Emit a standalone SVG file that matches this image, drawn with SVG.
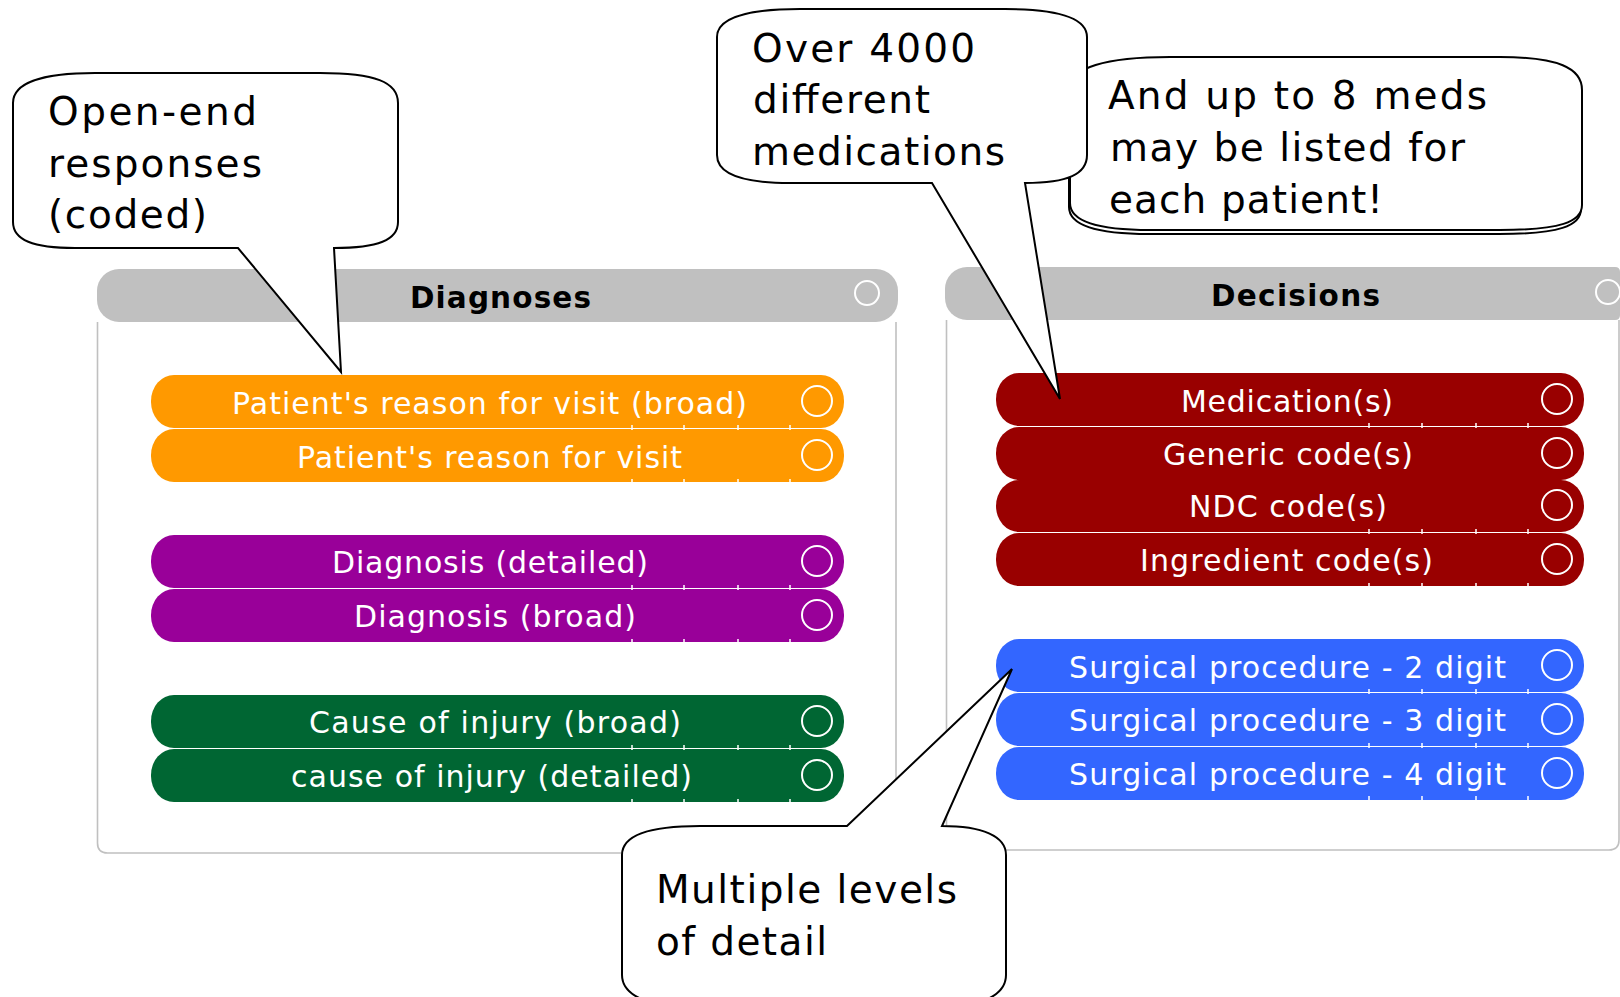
<svg xmlns="http://www.w3.org/2000/svg" width="1620" height="997" viewBox="0 0 1620 997">
<style>
.hdr{fill:#c0c0c0}
.body{fill:none;stroke:#c0c0c0;stroke-width:1.6}
.htxt{font-family:"DejaVu Sans","Liberation Sans",sans-serif;font-weight:bold;font-size:29.5px;fill:#000}
.ptxt{font-family:"DejaVu Sans","Liberation Sans",sans-serif;font-size:30px;fill:#fff}
.ctxt{font-family:"DejaVu Sans","Liberation Sans",sans-serif;font-size:39px;fill:#000}
.ring{fill:none;stroke:#fff;stroke-width:2}
.tick{stroke:#fff;stroke-width:1.5}
.bub{fill:#fff;stroke:#000;stroke-width:2;stroke-linejoin:miter}
.orange{fill:#ff9900}.purple{fill:#990099}.green{fill:#006633}.red{fill:#990000}.blue{fill:#3366ff}
</style>

<g id="diagnoses">
  <path class="body" d="M97.5,322 L97.5,843 Q97.5,853 107.5,853 L886,853 Q896,853 896,843 L896,322"/>
  <rect class="hdr" x="97" y="269" width="801" height="53" rx="22" ry="22"/>
  <text class="htxt" x="410" y="308" textLength="181" lengthAdjust="spacing">Diagnoses</text>
  <circle class="ring" cx="867" cy="293" r="12"/>
</g>

<g id="decisions">
  <path class="body" d="M946.5,320 L946.5,840 Q946.5,850 956.5,850 L1609,850 Q1619,850 1619,840 L1619,320"/>
  <path class="hdr" d="M967,267 L1615,267 Q1620,267 1620,272 L1620,315 Q1620,320 1615,320 L967,320 A22,22 0 0 1 945,298 L945,289 A22,22 0 0 1 967,267 Z"/>
  <text class="htxt" x="1211" y="306" textLength="169" lengthAdjust="spacing">Decisions</text>
  <circle class="ring" cx="1608" cy="292" r="12"/>
</g>

<g id="pill-reason-broad">
  <rect class="orange" x="151" y="375" width="693" height="53" rx="23" ry="26"/>
  <text class="ptxt" x="232" y="414" textLength="515" lengthAdjust="spacing">Patient's reason for visit (broad)</text>
  <circle class="ring" cx="817" cy="401" r="15"/>
</g>
<g id="pill-reason">
  <rect class="orange" x="151" y="429" width="693" height="53" rx="23" ry="26"/>
  <text class="ptxt" x="297" y="468" textLength="385" lengthAdjust="spacing">Patient's reason for visit</text>
  <circle class="ring" cx="817" cy="455" r="15"/>
</g>
<g id="pill-diag-detailed">
  <rect class="purple" x="151" y="535" width="693" height="53" rx="23" ry="26"/>
  <text class="ptxt" x="332" y="573" textLength="316" lengthAdjust="spacing">Diagnosis (detailed)</text>
  <circle class="ring" cx="817" cy="561" r="15"/>
</g>
<g id="pill-diag-broad">
  <rect class="purple" x="151" y="589" width="693" height="53" rx="23" ry="26"/>
  <text class="ptxt" x="354" y="627" textLength="282" lengthAdjust="spacing">Diagnosis (broad)</text>
  <circle class="ring" cx="817" cy="615" r="15"/>
</g>
<g id="pill-cause-broad">
  <rect class="green" x="151" y="695" width="693" height="53" rx="23" ry="26"/>
  <text class="ptxt" x="309" y="733" textLength="372" lengthAdjust="spacing">Cause of injury (broad)</text>
  <circle class="ring" cx="817" cy="721" r="15"/>
</g>
<g id="pill-cause-detailed">
  <rect class="green" x="151" y="749" width="693" height="53" rx="23" ry="26"/>
  <text class="ptxt" x="291" y="787" textLength="401" lengthAdjust="spacing">cause of injury (detailed)</text>
  <circle class="ring" cx="817" cy="775" r="15"/>
</g>

<g id="pill-medication">
  <rect class="red" x="996" y="373" width="588" height="53" rx="23" ry="26"/>
  <text class="ptxt" x="1181" y="412" textLength="212" lengthAdjust="spacing">Medication(s)</text>
  <circle class="ring" cx="1557" cy="399" r="15"/>
</g>
<g id="pill-generic">
  <rect class="red" x="996" y="427" width="588" height="53" rx="23" ry="26"/>
  <text class="ptxt" x="1163" y="465" textLength="250" lengthAdjust="spacing">Generic code(s)</text>
  <circle class="ring" cx="1557" cy="453" r="15"/>
</g>
<g id="pill-ndc">
  <rect class="red" x="996" y="480" width="588" height="52" rx="23" ry="26"/>
  <text class="ptxt" x="1189" y="517" textLength="198" lengthAdjust="spacing">NDC code(s)</text>
  <circle class="ring" cx="1557" cy="505" r="15"/>
</g>
<g id="pill-ingredient">
  <rect class="red" x="996" y="533" width="588" height="53" rx="23" ry="26"/>
  <text class="ptxt" x="1140" y="571" textLength="293" lengthAdjust="spacing">Ingredient code(s)</text>
  <circle class="ring" cx="1557" cy="559" r="15"/>
</g>
<g id="pill-surg-2">
  <rect class="blue" x="996" y="639" width="588" height="53" rx="23" ry="26"/>
  <text class="ptxt" x="1069" y="678" textLength="437" lengthAdjust="spacing">Surgical procedure - 2 digit</text>
  <circle class="ring" cx="1557" cy="665" r="15"/>
</g>
<g id="pill-surg-3">
  <rect class="blue" x="996" y="693" width="588" height="53" rx="23" ry="26"/>
  <text class="ptxt" x="1069" y="731" textLength="437" lengthAdjust="spacing">Surgical procedure - 3 digit</text>
  <circle class="ring" cx="1557" cy="719" r="15"/>
</g>
<g id="pill-surg-4">
  <rect class="blue" x="996" y="747" width="588" height="53" rx="23" ry="26"/>
  <text class="ptxt" x="1069" y="785" textLength="437" lengthAdjust="spacing">Surgical procedure - 4 digit</text>
  <circle class="ring" cx="1557" cy="773" r="15"/>
</g>

<g id="ticks">
  <path class="tick" d="M632,425V430M684,425V430M738,425V430M790,425V430M632,479V483M684,479V483M738,479V483M790,479V483M632,585V590M684,585V590M738,585V590M790,585V590M632,639V643M684,639V643M738,639V643M790,639V643M632,745V750M684,745V750M738,745V750M790,745V750M632,799V803M684,799V803M738,799V803M790,799V803"/>
  <path class="tick" d="M1369,423V428M1422,423V428M1476,423V428M1528,423V428M1369,529V534M1422,529V534M1476,529V534M1528,529V534M1369,583V587M1422,583V587M1476,583V587M1528,583V587M1369,689V694M1422,689V694M1476,689V694M1528,689V694M1369,743V748M1422,743V748M1476,743V748M1528,743V748M1369,796V800M1422,796V800M1476,796V800M1528,796V800"/>
</g>

<g id="connectors"></g>

<g id="callout-meds">
  <path class="bub" transform="translate(-1,4)" d="M1070,88 C1070,68 1105,57 1170,57 L1500,57 C1558,57 1582,68 1582,90 L1582,205 C1582,222 1560,230 1500,230 L1150,230 C1095,230 1070,220 1070,203 Z"/>
  <path class="bub" d="M1070,88 C1070,68 1105,57 1170,57 L1500,57 C1558,57 1582,68 1582,90 L1582,205 C1582,222 1560,230 1500,230 L1150,230 C1095,230 1070,220 1070,203 Z"/>
  <text class="ctxt" x="1108" y="109" textLength="379" lengthAdjust="spacing">And up to 8 meds</text>
  <text class="ctxt" x="1110" y="161" textLength="355" lengthAdjust="spacing">may be listed for</text>
  <text class="ctxt" x="1109" y="213" textLength="274" lengthAdjust="spacing">each patient!</text>
</g>

<g id="callout-4000">
  <path class="bub" d="M717,37 C717,18 748,9 800,9 L1005,9 C1058,9 1087,18 1087,37 L1087,155 C1087,174 1068,183 1025,183 L1060,399 L932,183 L790,183 C742,183 717,174 717,155 Z"/>
  <text class="ctxt" x="752" y="62" textLength="223" lengthAdjust="spacing">Over 4000</text>
  <text class="ctxt" x="753" y="113" textLength="177" lengthAdjust="spacing">different</text>
  <text class="ctxt" x="752" y="165" textLength="253" lengthAdjust="spacing">medications</text>
</g>

<g id="callout-levels">
  <path class="bub" d="M622,855 C622,836 648,826 700,826 L847,826 L1012,669 L942,826 C982,826 1006,836 1006,855 L1006,975 C1006,996 980,1008 930,1008 L700,1008 C650,1008 622,996 622,975 Z"/>
  <text class="ctxt" x="656" y="903" textLength="301" lengthAdjust="spacing">Multiple levels</text>
  <text class="ctxt" x="656" y="955" textLength="171" lengthAdjust="spacing">of detail</text>
</g>

<g id="callout-openend">
  <path class="bub" d="M13,103 C13,82 45,73 95,73 L320,73 C375,73 398,82 398,103 L398,222 C398,240 378,248 334,248 L341,372 L238,248 L75,248 C33,248 13,240 13,222 Z"/>
  <text class="ctxt" x="48" y="125" textLength="209" lengthAdjust="spacing">Open-end</text>
  <text class="ctxt" x="48" y="177" textLength="214" lengthAdjust="spacing">responses</text>
  <text class="ctxt" x="48" y="228" textLength="159" lengthAdjust="spacing">(coded)</text>
</g>
</svg>
